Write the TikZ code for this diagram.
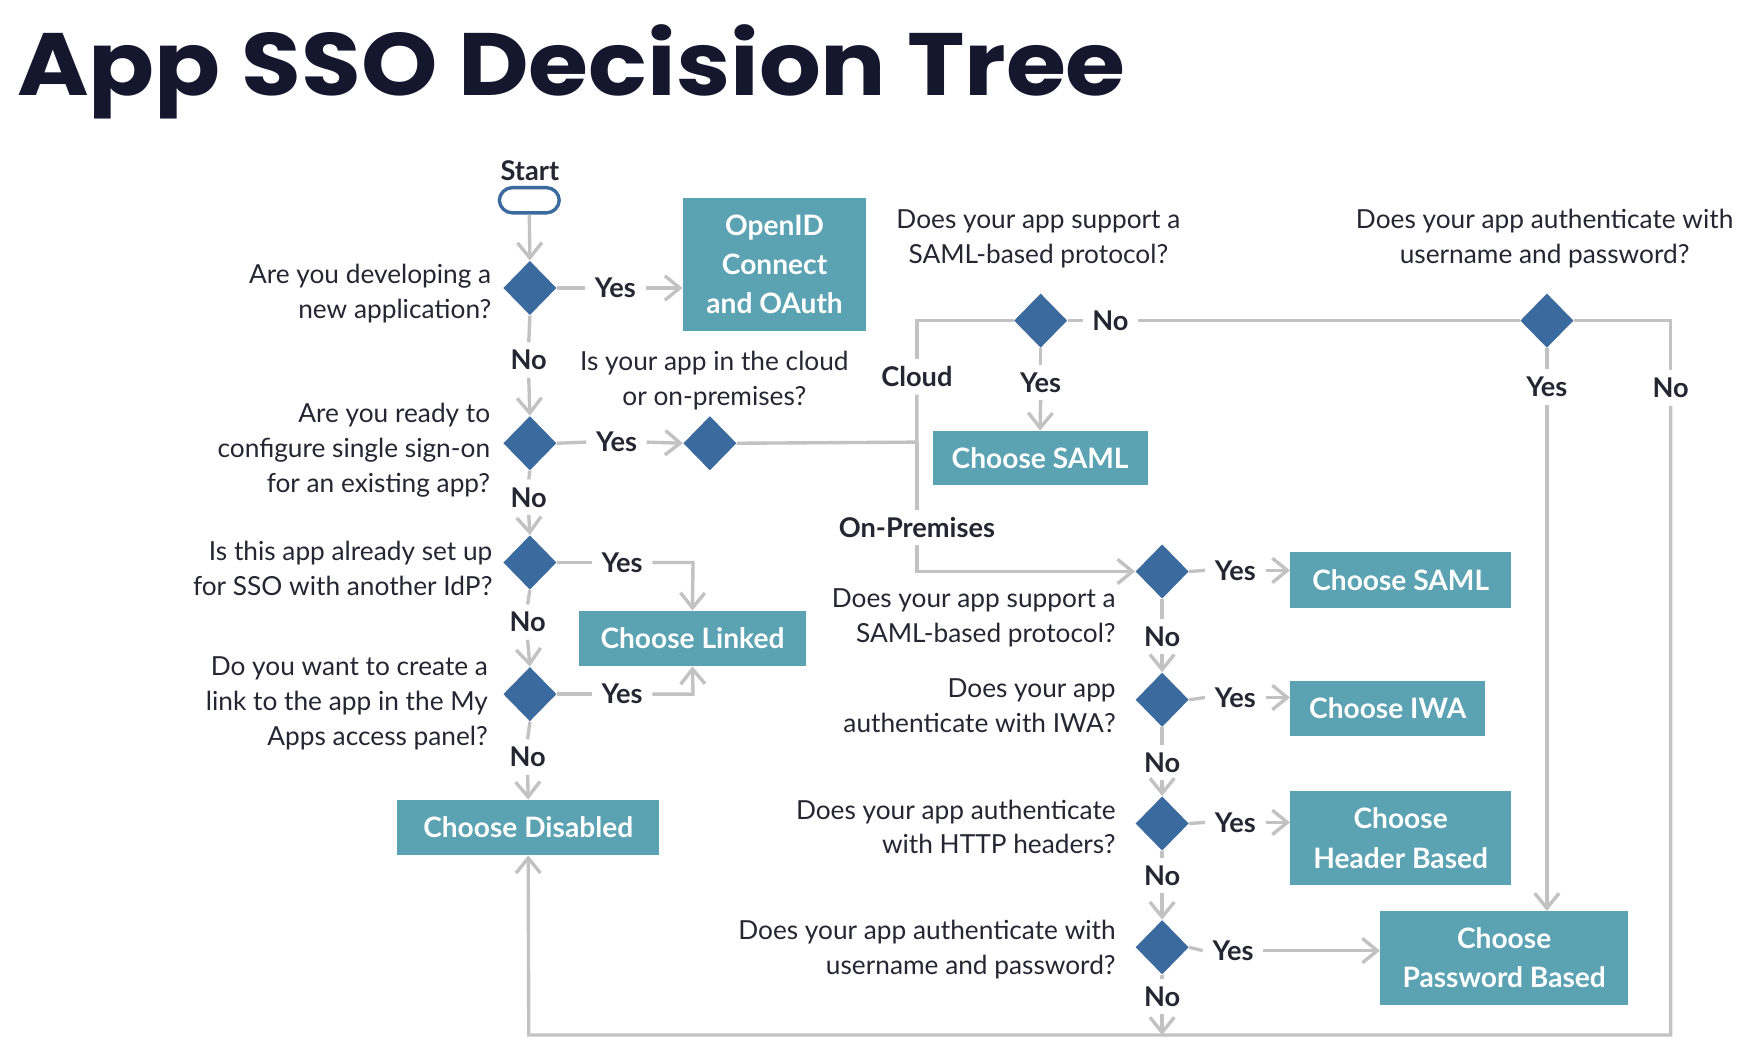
\documentclass[tikz,border=0pt]{standalone}
\usepackage{fontspec}
\setmainfont{Lato}
\newfontfamily\titlefont{Poppins}
\usetikzlibrary{shapes.geometric,arrows.meta}
\definecolor{dblue}{HTML}{3B6A9F}
\definecolor{boxteal}{HTML}{5BA3B3}
\definecolor{lgray}{HTML}{C2C2C2}
\definecolor{txt}{HTML}{262633}
\definecolor{ttl}{HTML}{15172E}
\begin{document}
\begin{tikzpicture}[x=0.6pt,y=-0.6pt,
 dia/.style={diamond,fill=dblue,inner sep=0pt,minimum width=28.4pt,minimum height=29pt},
 sbox/.style={rectangle,fill=boxteal,text=white,font=\bfseries\fontsize{15}{21}\selectfont,align=center,inner sep=0pt},
 q/.style={text=txt,font=\fontsize{14}{18.6}\selectfont,inner sep=0pt},
 lab/.style={text=txt,font=\bfseries\fontsize{14.5}{17}\selectfont,inner xsep=5pt,inner ysep=4pt,text height=10.5pt,text depth=0pt},
 con/.style={draw=lgray,line width=1.8pt},
 arr/.style={con,-{Straight Barb[length=8pt,width=13pt,line width=1.8pt]}}
]
\useasboundingbox[fill=white] (0,0) rectangle (1568,942);

% title
\node[anchor=base west,inner sep=0pt,text=ttl] (title) at (15,85)
  {\resizebox{591pt}{37.8pt}{\titlefont\bfseries App SSO Decision Tree}};

% start
\node[text=txt,font=\bfseries\fontsize{14.5}{17}\selectfont,inner sep=0pt] (starttxt) at (471,152) {Start};
\node[draw=dblue,line width=1.8pt,fill=white,rounded corners=7pt,minimum width=32pt,minimum height=13.5pt,inner sep=0pt] (start) at (470.5,178) {};

% diamonds
\node[dia] (d1) at (471,256) {};
\node[dia] (d2) at (471,394) {};
\node[dia] (d3) at (631,394) {};
\node[dia] (d4) at (471,500) {};
\node[dia] (d8) at (471,617) {};
\node[dia] (d5) at (925,285) {};
\node[dia] (d7) at (1375,285) {};
\node[dia] (d6) at (1033,508) {};
\node[dia] (d9) at (1033,622) {};
\node[dia] (d10) at (1033,732) {};
\node[dia] (d11) at (1033,842) {};

% boxes
\node[sbox,minimum width=97.8pt,minimum height=70.8pt] (openid) at (688.5,235) {OpenID\\Connect\\and OAuth};
\node[sbox,minimum width=114.6pt,minimum height=28.8pt] (saml1) at (924.5,407) {Choose SAML};
\node[sbox,minimum width=120.6pt,minimum height=29.4pt] (linked) at (615.5,567.5) {Choose Linked};
\node[sbox,minimum width=139.8pt,minimum height=29.4pt] (disabled) at (469.5,735.5) {Choose Disabled};
\node[sbox,minimum width=117.6pt,minimum height=29.4pt] (saml2) at (1245,515.5) {Choose SAML};
\node[sbox,minimum width=103.8pt,minimum height=29.4pt] (iwa) at (1233.5,629.5) {Choose IWA};
\node[sbox,minimum width=117.6pt,minimum height=50.4pt] (header) at (1245,745) {Choose\\Header Based};
\node[sbox,minimum width=132pt,minimum height=49.8pt] (password) at (1337,851.5) {Choose\\Password Based};

% questions
\node[q,align=right,anchor=east] (q1) at (437,261) {Are you developing a\\new application?};
\node[q,align=right,anchor=east] (q2) at (436,400) {Are you ready to\\configure single sign-on\\for an existing app?};
\node[q,align=center] (q3) at (635,338) {Is your app in the cloud\\or on-premises?};
\node[q,align=right,anchor=east] (q4) at (438,505) {Is this app already set up\\for SSO with another IdP?};
\node[q,align=right,anchor=east] (q5) at (434,625) {Do you want to create a\\link to the app in the My\\Apps access panel?};
\node[q,align=center] (q6) at (923,212) {Does your app support a\\SAML-based protocol?};
\node[q,align=center] (q7) at (1373,212) {Does your app authenticate with\\username and password?};
\node[q,align=right,anchor=east] (q8) at (992,549) {Does your app support a\\SAML-based protocol?};
\node[q,align=right,anchor=east] (q9) at (992,627) {Does your app\\authenticate with IWA?};
\node[q,align=right,anchor=east] (q10) at (992,735) {Does your app authenticate\\with HTTP headers?};
\node[q,align=right,anchor=east] (q11) at (992,844) {Does your app authenticate with\\username and password?};

% labels
\node[lab] (y1) at (547,256) {Yes};
\node[lab] (n1) at (470,320) {No};
\node[lab] (y2) at (548,393) {Yes};
\node[lab] (n2) at (470,442) {No};
\node[lab] (y4) at (553,500) {Yes};
\node[lab] (n4) at (469,553) {No};
\node[lab] (y8) at (553,617) {Yes};
\node[lab] (n8) at (469,673) {No};
\node[lab] (cloud) at (815,335) {Cloud};
\node[lab] (onprem) at (815,469) {On-Premises};
\node[lab] (y5) at (925,340) {Yes};
\node[lab] (n5) at (987,285) {No};
\node[lab] (y7) at (1375,344) {Yes};
\node[lab] (n7) at (1485,345) {No};
\node[lab] (y6) at (1098,507) {Yes};
\node[lab] (n6) at (1033,566) {No};
\node[lab] (y9) at (1098,620) {Yes};
\node[lab] (n9) at (1033,678) {No};
\node[lab] (y10) at (1098,731) {Yes};
\node[lab] (n10) at (1033,778) {No};
\node[lab] (y11) at (1096,845) {Yes};
\node[lab] (n11) at (1033,886) {No};

% coordinates
\coordinate (c1) at (815,285);
\coordinate (c2) at (815,393);
\coordinate (c3) at (815,508);
\coordinate (r1) at (1485,285);
\coordinate (r2) at (1485,920);
\coordinate (b1) at (470,920);
\coordinate (k1) at (616,500);
\coordinate (k2) at (616,617);

% connectors
\draw[arr] (start.south) -- (d1.north);
\draw[con] (d1.east) -- (y1.west);
\draw[arr] (y1.east) -- (y1.east -| openid.west);
\draw[con] (d1.south) -- (n1.north);
\draw[arr] (n1.south) -- (d2.north);
\draw[con] (d2.east) -- (y2.west);
\draw[arr] (y2.east) -- (d3.west);
\draw[con] (d2.south) -- (n2.north);
\draw[arr] (n2.south) -- (d4.north);
\draw[con] (d3.east) -- (c2) -- (cloud.south);
\draw[con] (cloud.north) -- (c1) -- (d5.west);
\draw[con] (c2) -- (onprem.north);
\draw[arr] (onprem.south) -- (c3) -- (d6.west);
\draw[con] (d5.south) -- (y5.north);
\draw[arr] (y5.south) -- (saml1.north);
\draw[con] (d5.east) -- (n5.west);
\draw[con] (n5.east) -- (d7.west);
\draw[con] (d7.south) -- (y7.north);
\draw[arr] (y7.south) -- (y7.south |- password.north);
\draw[con] (d7.east) -- (r1) -- (n7.north);
\draw[arr] (n7.south) -- (r2) -- (b1) -- (disabled.south);
\draw[con] (d4.east) -- (y4.west);
\draw[arr] (y4.east) -- (k1) -- (linked.north);
\draw[con] (d8.east) -- (y8.west);
\draw[arr] (y8.east) -- (k2) -- (linked.south);
\draw[con] (d4.south) -- (n4.north);
\draw[arr] (n4.south) -- (d8.north);
\draw[con] (d8.south) -- (n8.north);
\draw[arr] (n8.south) -- (disabled.north);
\draw[con] (d6.east) -- (y6.west);
\draw[arr] (y6.east) -- (y6.east -| saml2.west);
\draw[con] (d6.south) -- (n6.north);
\draw[arr] (n6.south) -- (d9.north);
\draw[con] (d9.east) -- (y9.west);
\draw[arr] (y9.east) -- (y9.east -| iwa.west);
\draw[con] (d9.south) -- (n9.north);
\draw[arr] (n9.south) -- (d10.north);
\draw[con] (d10.east) -- (y10.west);
\draw[arr] (y10.east) -- (y10.east -| header.west);
\draw[con] (d10.south) -- (n10.north);
\draw[arr] (n10.south) -- (d11.north);
\draw[con] (d11.east) -- (y11.west);
\draw[arr] (y11.east) -- (y11.east -| password.west);
\draw[con] (d11.south) -- (n11.north);
\draw[arr] (n11.south) -- (n11.south |- b1);
\end{tikzpicture}
\end{document}
